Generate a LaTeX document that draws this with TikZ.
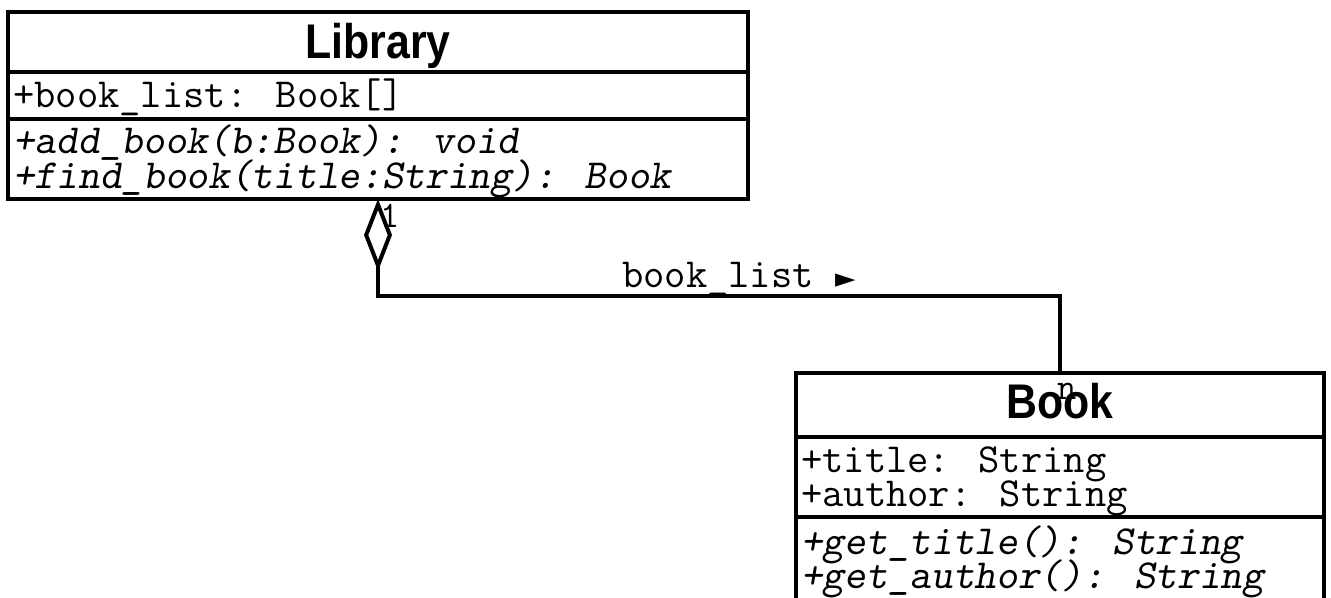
\documentclass[tikz,border=0pt]{standalone}
\usepackage{fontspec}
\setmainfont{Liberation Sans}
\newfontfamily\titlefont{Liberation Sans}[FakeStretch=0.88]
\newfontfamily\symfont{DejaVu Sans}
\usetikzlibrary{arrows.meta}
\begin{document}
\begin{tikzpicture}[x=0.75pt,y=-0.75pt,
  box/.style={draw,line width=3pt,inner sep=0pt,outer sep=0pt,anchor=north west},
  title/.style={font=\titlefont\fontsize{36.5}{40}\selectfont\bfseries,inner sep=0pt,anchor=base},
  attr/.style={font=\ttfamily\fontsize{31}{34}\selectfont,inner sep=0pt,anchor=base west},
  meth/.style={font=\ttfamily\slshape\fontsize{31}{34}\selectfont,inner sep=0pt,anchor=base west},
  mult/.style={font=\ttfamily\fontsize{28}{30}\selectfont,inner sep=0pt},
  conn/.style={line width=3pt}]
\useasboundingbox[fill=white] (0,0) rectangle (1331,597);
% Library
\node[box,minimum width=555pt,minimum height=45pt] (libT) at (8,12) {};
\node[box,minimum width=555pt,minimum height=35.25pt] (libA) at (8,72) {};
\node[box,minimum width=555pt,minimum height=60pt] (libM) at (8,119) {};
\node[title] (libName) at (378,58) {Library};
\node[attr] (libA1) at (13,107) {+book\_list: Book[]};
\node[meth] (libM1) at (13,153) {+add\_book(b:Book): void};
\node[meth] (libM2) at (13,188) {+find\_book(title:String): Book};
% Book
\node[box,minimum width=396pt,minimum height=48pt] (bookT) at (796,373) {};
\node[box,minimum width=396pt,minimum height=60pt] (bookA) at (796,437) {};
\node[box,minimum width=396pt,minimum height=70pt] (bookM) at (796,517) {};
\node[title] (bookName) at (1060,418) {Book};
\node[attr] (bookA1) at (801,472) {+title: String};
\node[attr] (bookA2) at (801,506) {+author: String};
\node[meth] (bookM1) at (801,554) {+get\_title(): String};
\node[meth] (bookM2) at (801,588) {+get\_author(): String};
% association
\coordinate (bend) at (720,296);
\draw[conn,{Diamond[open,length=54pt,width=21pt]}-] (libM.south) |- (bend) -| (bookT.north);
\node[attr] (assocLabel) at (622,287) {book\_list {\symfont\fontsize{20}{22}\selectfont ►}};
\node[mult] (m1) at (390,216) {1};
\node[mult] (mn) at (1067,391) {n};
\end{tikzpicture}
\end{document}
